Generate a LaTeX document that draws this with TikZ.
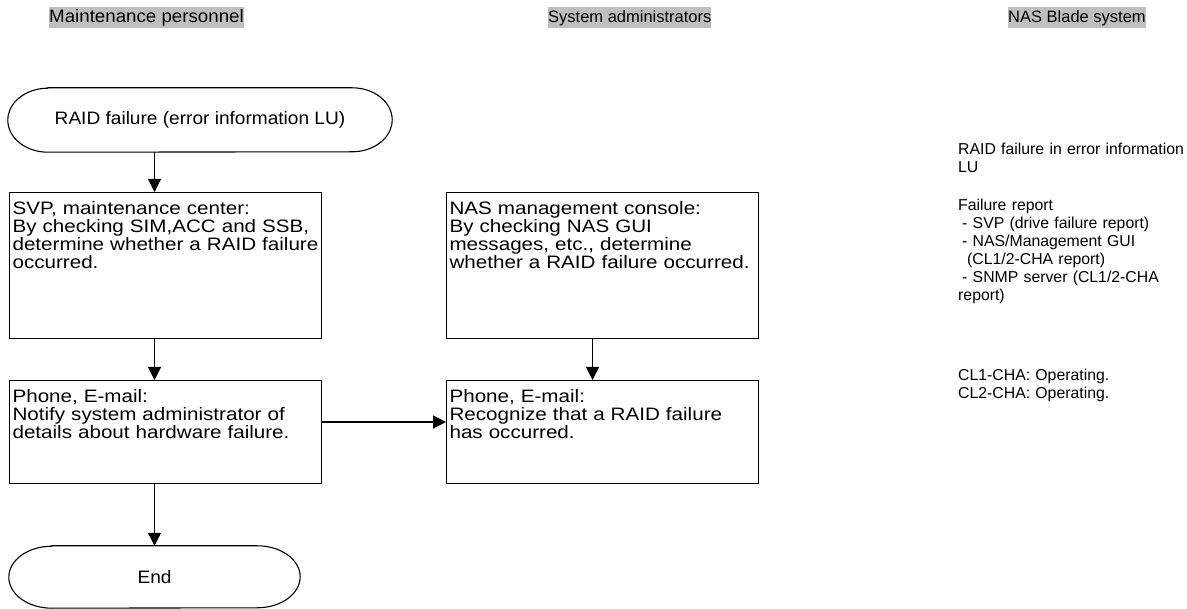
\documentclass[tikz,border=0pt]{standalone}
\usepackage{fontspec}
\setmainfont{Liberation Sans}
\newfontfamily\boxfont[FakeStretch=1.145]{Liberation Sans}
\newfontfamily\termfont[FakeStretch=1.06]{Liberation Sans}
\newfontfamily\headwide[FakeStretch=1.04]{Liberation Sans}
\usetikzlibrary{arrows.meta,positioning}

\begin{document}
\begin{tikzpicture}[x=1pt,y=-1pt,
	every node/.style={font=\fontsize{16.5}{18}\selectfont},
	head/.style={fill=black!25,inner xsep=0pt,inner ysep=1pt,text height=14pt,text depth=5pt},
	box/.style={draw,line width=1.1pt,anchor=north west,align=left,text width=306pt,inner xsep=3pt,inner ysep=3pt,text height=19pt,
		font=\boxfont\fontsize{18}{18}\selectfont},
	term/.style={inner sep=0pt,font=\termfont\fontsize{18}{18}\selectfont},
	note/.style={anchor=north west,align=left,text width=228pt,inner sep=0pt,text height=12pt,font=\fontsize{15.8}{18}\selectfont},
	arr/.style={line width=1.1pt,-{Triangle[length=13pt,width=13pt]}}]
			\useasboundingbox (0,0) rectangle (1187,609);

			\node [head,anchor=north west,font=\headwide\fontsize{18}{18}\selectfont] (hmaint) at (49,7) {Maintenance personnel};
			\node [head,anchor=north west] (hadmin) at (548,7) {System administrators};
			\node [head,anchor=north west] (hnas) at (1008,7) {NAS Blade system};

			\node [term,minimum width=384pt,minimum height=64pt] (start) at (200,120) {RAID failure (error information LU)};
			\draw [line width=1.1pt] ([xshift=40pt]start.north west) -- ([xshift=-40pt]start.north east)
				arc[start angle=90,end angle=-90,x radius=40pt,y radius=32pt] -- ([xshift=40pt]start.south west)
				arc[start angle=270,end angle=90,x radius=40pt,y radius=32pt] -- cycle;

			\node [box,text depth=121pt] (svp) at (9,192) {SVP, maintenance center:\\By checking SIM,ACC and SSB,\\determine whether a RAID failure\\occurred.};
			\node [box,text depth=78pt] (mail) at (9,380) {Phone, E-mail:\\Notify system administrator of\\details about hardware failure.};

			\node [term,minimum width=291pt,minimum height=62pt] (end) at (154.5,577) {End};
			\draw [line width=1.1pt] ([xshift=43pt]end.north west) -- ([xshift=-43pt]end.north east)
				arc[start angle=90,end angle=-90,x radius=43pt,y radius=31pt] -- ([xshift=43pt]end.south west)
				arc[start angle=270,end angle=90,x radius=43pt,y radius=31pt] -- cycle;

			\node [box,text depth=121pt] (console) at (446,192) {NAS management console:\\By checking NAS GUI\\messages, etc., determine\\whether a RAID failure occurred.};
			\node [box,text depth=78pt] (recog) at (446,380) {Phone, E-mail:\\Recognize that a RAID failure\\has occurred.};

			\draw [arr] (start.south -| end.north) -- (svp.north -| end.north);
			\draw [arr] (svp.south -| end.north) -- (mail.north -| end.north);
			\draw [arr] (mail.south -| end.north) -- (end.north);
			\draw [arr] ([xshift=-10pt]console.south) -- ([xshift=-10pt]recog.north);
			\draw [arr] (mail.east |- 0,422) -- (recog.west |- 0,422);

			\node [note] (raidlu) at (958,142) {RAID failure in error information\\LU};
			\node [note] (report) at (958,198) {Failure report\\\hspace*{4pt}- SVP (drive failure report)\\\hspace*{4pt}- NAS/Management GUI\\\hspace*{9pt}(CL1/2-CHA report)\\\hspace*{4pt}- SNMP server (CL1/2-CHA\\report)};
			\node [note] (status) at (958,368) {CL1-CHA: Operating.\\CL2-CHA: Operating.};
\end{tikzpicture}
\end{document}
